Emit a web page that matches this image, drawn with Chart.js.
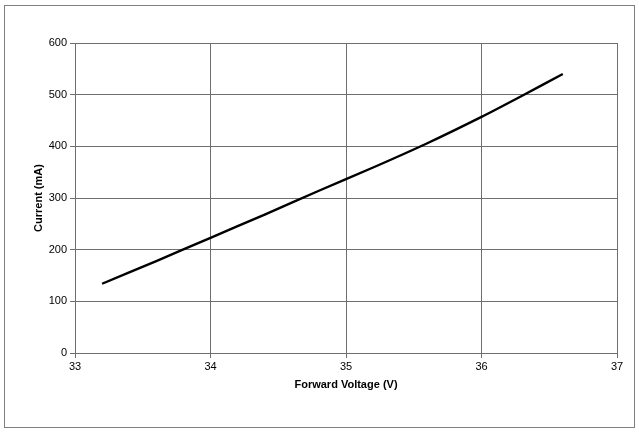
<!DOCTYPE html>
<html>
<head>
<meta charset="utf-8">
<script src="https://cdn.jsdelivr.net/npm/chart.js@4.4.0/dist/chart.umd.min.js"></script>
<style>
  html, body { margin: 0; padding: 0; background: #fff; }
  #wrap { position: relative; width: 639px; height: 432px; }
  #frame { position: absolute; left: 4px; top: 5px; width: 629px; height: 421px; border: 1px solid #7f7f7f; pointer-events: none; }
</style>
</head>
<body>
<div id="wrap">
  <canvas id="ivChart" width="639" height="432"></canvas>
  <div id="frame"></div>
</div>
<script>
// forward voltage (V) and current (mA)
const voltage = [33.2, 33.6, 34.0, 34.4, 34.8, 35.2, 35.6, 36.0, 36.3, 36.6];
const current = [134, 178, 223, 268, 314, 359, 406, 457, 498, 540];

const xTitle = 'Forward Voltage (V)';
const yTitle = 'Current (mA)';

const points = voltage.map((v, i) => ({ x: v, y: current[i] }));

const tickFont = { family: 'Liberation Sans', size: 11 };
const titleFont = { family: 'Liberation Sans', size: 11, weight: 'bold' };

let ctx = document.getElementById('ivChart');
let ivChart = new Chart(ctx, {
  type: 'line',
  data: {
    datasets: [{
      data: points,
      borderColor: '#000',
      borderWidth: 2.4,
      pointRadius: 0,
      tension: 0.2,
      fill: false
    }]
  },
  options: {
    responsive: false,
    animation: false,
    layout: { padding: { left: 20, top: 43, right: 22, bottom: 34 } },
    plugins: { legend: { display: false }, tooltip: { enabled: false } },
    scales: {
      x: {
        type: 'linear',
        min: 33,
        max: 37,
        afterFit: s => { s.height = 45; },
        ticks: { stepSize: 1, color: '#000', font: tickFont, padding: 2, maxRotation: 0 },
        grid: { color: '#6f6f6f', tickLength: 5 },
        border: { color: '#6f6f6f' },
        title: { display: true, text: xTitle, color: '#000', font: titleFont, padding: { top: 0, bottom: 6 } }
      },
      y: {
        min: 0,
        max: 600,
        afterFit: s => { s.width = 55; },
        ticks: { stepSize: 100, color: '#000', font: tickFont, padding: 3 },
        grid: { color: '#6f6f6f', tickLength: 5 },
        border: { color: '#6f6f6f' },
        title: { display: true, text: yTitle, color: '#000', font: titleFont, padding: { top: 12, bottom: 0 } }
      }
    }
  }
});
</script>
</body>
</html>
